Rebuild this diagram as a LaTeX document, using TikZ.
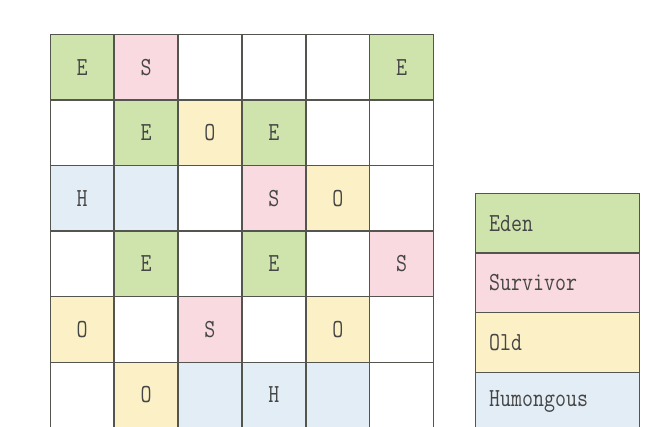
\documentclass[tikz,border=0pt]{standalone}
\usepackage{fontspec}
\newfontfamily\cellfont{Latin Modern Mono}[FakeStretch=0.82]
\definecolor{cE}{HTML}{CFE4AC}
\definecolor{cS}{HTML}{F9DAE0}
\definecolor{cO}{HTML}{FCF1C6}
\definecolor{cH}{HTML}{E3EDF5}
\definecolor{lineC}{HTML}{55554F}
\definecolor{txtC}{HTML}{454545}
\tikzset{
  cell/.style={draw=lineC, line width=1.4pt, minimum width=63.9pt, minimum height=65.5pt,
    inner sep=0pt, anchor=north west, text=txtC, font=\cellfont\fontsize{26}{26}\selectfont},
  cE/.style={cell, fill=cE},
  cS/.style={cell, fill=cS},
  cO/.style={cell, fill=cO},
  cH/.style={cell, fill=cH},
  cW/.style={cell, fill=white},
  leg/.style={draw=lineC, line width=1.4pt, minimum width=164pt, minimum height=59.5pt,
    inner sep=0pt, anchor=north west},
  legtxt/.style={anchor=west, inner sep=0pt, text=txtC, font=\cellfont\fontsize{26}{26}\selectfont}
}
\begin{document}
\begin{tikzpicture}[x=1pt,y=-1pt]
\useasboundingbox (0,0) rectangle (650,427);
\fill[white] (0,0) rectangle (650,427);
\clip (0,0) rectangle (650,427);
% columns x: 49.5 + 63.9*i ; rows y: 34 + 65.5*j
% row 1
\node[cE] (r1c1) at (49.5,34) {E};
\node[cS] (r1c2) at (113.4,34) {S};
\node[cW] (r1c3) at (177.3,34) {};
\node[cW] (r1c4) at (241.2,34) {};
\node[cW] (r1c5) at (305.1,34) {};
\node[cE] (r1c6) at (369.0,34) {E};
% row 2
\node[cW] (r2c1) at (49.5,99.5) {};
\node[cE] (r2c2) at (113.4,99.5) {E};
\node[cO] (r2c3) at (177.3,99.5) {O};
\node[cE] (r2c4) at (241.2,99.5) {E};
\node[cW] (r2c5) at (305.1,99.5) {};
\node[cW] (r2c6) at (369.0,99.5) {};
% row 3
\node[cH] (r3c1) at (49.5,165) {H};
\node[cH] (r3c2) at (113.4,165) {};
\node[cW] (r3c3) at (177.3,165) {};
\node[cS] (r3c4) at (241.2,165) {S};
\node[cO] (r3c5) at (305.1,165) {O};
\node[cW] (r3c6) at (369.0,165) {};
% row 4
\node[cW] (r4c1) at (49.5,230.5) {};
\node[cE] (r4c2) at (113.4,230.5) {E};
\node[cW] (r4c3) at (177.3,230.5) {};
\node[cE] (r4c4) at (241.2,230.5) {E};
\node[cW] (r4c5) at (305.1,230.5) {};
\node[cS] (r4c6) at (369.0,230.5) {S};
% row 5
\node[cO] (r5c1) at (49.5,296) {O};
\node[cW] (r5c2) at (113.4,296) {};
\node[cS] (r5c3) at (177.3,296) {S};
\node[cW] (r5c4) at (241.2,296) {};
\node[cO] (r5c5) at (305.1,296) {O};
\node[cW] (r5c6) at (369.0,296) {};
% row 6
\node[cW] (r6c1) at (49.5,361.5) {};
\node[cO] (r6c2) at (113.4,361.5) {O};
\node[cH] (r6c3) at (177.3,361.5) {};
\node[cH] (r6c4) at (241.2,361.5) {H};
\node[cH] (r6c5) at (305.1,361.5) {};
\node[cW] (r6c6) at (369.0,361.5) {};
% legend
\node[leg, fill=cE] (lE) at (475,193) {};
\node[leg, fill=cS] (lS) at (475,252.5) {};
\node[leg, fill=cO] (lO) at (475,312) {};
\node[leg, fill=cH] (lH) at (475,371.5) {};
\node[legtxt] (tE) at ([xshift=14pt]lE.west) {Eden};
\node[legtxt] (tS) at ([xshift=14pt]lS.west) {Survivor};
\node[legtxt] (tO) at ([xshift=14pt]lO.west) {Old};
\node[legtxt] (tH) at ([xshift=14pt]lH.west) {Humongous};
\end{tikzpicture}
\end{document}
